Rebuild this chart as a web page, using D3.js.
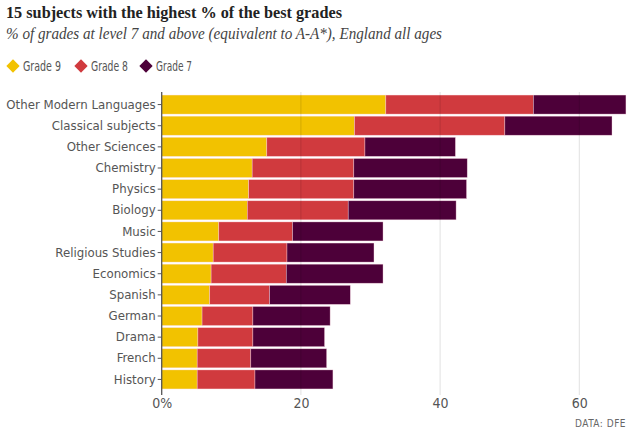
<!DOCTYPE html>
<html>
<head>
<meta charset="utf-8">
<script src="https://cdn.jsdelivr.net/npm/d3@7"></script>
<style>
  html, body { margin: 0; padding: 0; background: #fff; }
  svg { display: block; }
  .cond { font-family: "DejaVu Sans Condensed", "Liberation Sans Narrow", "Roboto Condensed", "Roboto", sans-serif; font-stretch: condensed; }
</style>
</head>
<body>
<svg id="chart" width="631" height="434"></svg>
<script>
const subjects = ["Other Modern Languages", "Classical subjects", "Other Sciences", "Chemistry", "Physics", "Biology", "Music", "Religious Studies", "Economics", "Spanish", "German", "Drama", "French", "History"];
const grade9 = [32.2, 27.7, 15.1, 13.0, 12.5, 12.3, 8.2, 7.4, 7.1, 6.9, 5.8, 5.2, 5.1, 5.1];
const grade8 = [21.2, 21.6, 14.1, 14.6, 15.1, 14.5, 10.6, 10.6, 10.8, 8.6, 7.3, 7.9, 7.7, 8.3];
const grade7 = [13.3, 15.4, 13.0, 16.3, 16.2, 15.5, 13.0, 12.5, 13.9, 11.6, 11.1, 10.3, 10.9, 11.2];
const seriesNames = ["Grade 9", "Grade 8", "Grade 7"];
const seriesColors = ["#f2c200", "#d03a3e", "#4d0039"];
const xTicks = [0, 20, 40, 60];

const svg = d3.select("#chart");
const rows = subjects.map((s, i) => ({ subject: s, "Grade 9": grade9[i], "Grade 8": grade8[i], "Grade 7": grade7[i] }));
const stacked = d3.stack().keys(seriesNames)(rows);

const x = d3.scaleLinear().domain([0, 60]).range([161.7, 579.3]);
const y = d3.scaleBand().domain(subjects).range([94, 390]).paddingInner(0.1).paddingOuter(0.05);

// Title
svg.append("text").attr("x", 6).attr("y", 18)
  .attr("font-family", "'Liberation Serif', 'DejaVu Serif', serif")
  .attr("font-weight", "bold").attr("font-size", 17.5).attr("fill", "#222")
  .attr("textLength", 336).attr("lengthAdjust", "spacingAndGlyphs")
  .text("15 subjects with the highest % of the best grades");
svg.append("text").attr("x", 6).attr("y", 39)
  .attr("font-family", "'Liberation Serif', 'DejaVu Serif', serif")
  .attr("font-style", "italic").attr("font-size", 17).attr("fill", "#444")
  .attr("textLength", 436).attr("lengthAdjust", "spacingAndGlyphs")
  .text("% of grades at level 7 and above (equivalent to A-A*), England all ages");

// Legend
const legendX = [13, 81, 146];
const legendW = [38, 37, 36];
const lg = svg.append("g");
seriesNames.forEach((name, i) => {
  const g = lg.append("g").attr("transform", `translate(${legendX[i]},66)`);
  g.append("rect").attr("x", -4.7).attr("y", -4.7).attr("width", 9.4).attr("height", 9.4)
    .attr("transform", "rotate(45)").attr("fill", seriesColors[i]);
  g.append("text").attr("class", "cond").attr("x", 10).attr("y", 5)
    .attr("font-size", 13.5).attr("fill", "#555")
    .attr("textLength", legendW[i]).attr("lengthAdjust", "spacingAndGlyphs")
    .text(name);
});

// Bars
const layers = svg.append("g").selectAll("g").data(stacked).join("g")
  .attr("fill", (d, i) => seriesColors[i]);
layers.selectAll("rect").data(d => d).join("rect")
  .attr("x", d => x(d[0]))
  .attr("y", d => y(d.data.subject))
  .attr("width", d => x(d[1]) - x(d[0]))
  .attr("height", y.bandwidth())
  .attr("stroke", "rgba(255,220,230,0.6)").attr("stroke-width", 0.6);

// Gridlines on top
svg.append("g").selectAll("line").data(xTicks.filter(t => t > 0)).join("line")
  .attr("x1", d => x(d)).attr("x2", d => x(d))
  .attr("y1", 92).attr("y2", 395)
  .attr("stroke", "rgba(0,0,0,0.12)").attr("stroke-width", 1);

// Y axis
const yAxis = d3.axisLeft(y).tickSize(4).tickPadding(2);
const yg = svg.append("g").attr("transform", `translate(${x(0)},0)`).call(yAxis);
yg.select(".domain").attr("d", `M0,92V395`).attr("stroke", "#555").attr("stroke-width", 1.3);
yg.selectAll(".tick line").attr("stroke", "#555");
yg.selectAll(".tick text").attr("class", "cond").attr("font-size", 13.1).attr("fill", "#555");

// X axis labels
const xAxis = d3.axisBottom(x).tickValues(xTicks).tickSize(0).tickPadding(0)
  .tickFormat(d => d === 0 ? "0%" : d);
const xg = svg.append("g").attr("transform", `translate(0,395)`).call(xAxis);
xg.select(".domain").remove();
xg.selectAll(".tick text").attr("class", "cond").attr("font-size", 14).attr("fill", "#555").attr("dy", "0.95em");

// Source
svg.append("text").attr("class", "cond").attr("x", 626).attr("y", 427)
  .attr("text-anchor", "end").attr("font-size", 10).attr("letter-spacing", 0.5)
  .attr("fill", "#666").text("DATA: DFE");
</script>
</body>
</html>
